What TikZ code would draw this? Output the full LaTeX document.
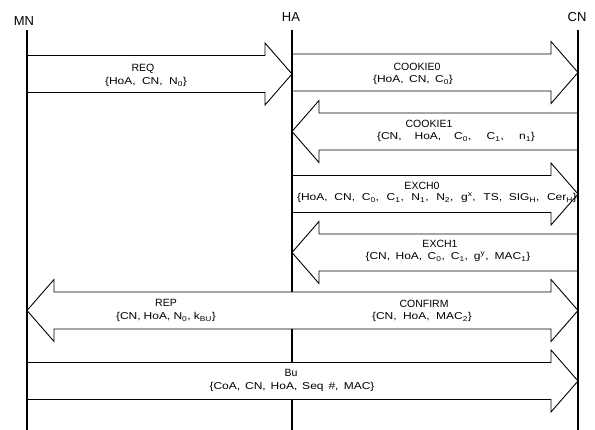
\documentclass[tikz,border=0pt]{standalone}
\usepackage{fontspec}
\setmainfont{Liberation Sans}
\newfontfamily\parfont[FakeStretch=1.2]{Liberation Sans}
\usetikzlibrary{calc}
\tikzset{
  party/.style    = {inner sep=0pt, font=\fontsize{13}{13}\selectfont},
  lifeline/.style = {line width=1.2pt},
  msgline/.style  = {draw, line width=0.9pt, line join=miter},
  msgfill/.style  = {msgline, fill=white},
  msgname/.style  = {inner sep=0pt, font=\fontsize{10.5}{10.5}\selectfont},
  msgpar/.style   = {inner sep=0pt, font=\parfont\fontsize{10}{10}\selectfont},
}
\newcommand{\spread}[2]{\hbox to #1pt{#2}}

\begin{document}
\begin{tikzpicture}[x=1pt, y=-1pt]
  \useasboundingbox (0,0) rectangle (595,430);
  % parties
  \node[party] (MN) at (24,21.5) {MN};
  \node[party] (HA) at (291,17) {HA};
  \node[party] (CN) at (577,17) {CN};
  \coordinate (mn) at (27,30);
  \coordinate (ha) at (292,30);
  \coordinate (cn) at (578,30);
  \coordinate (bottom) at (0,430);

  \draw[lifeline] (ha) -- (ha |- bottom);

  % one-way messages: tail / tip / y
  \foreach \a/\b/\y/\s in {mn/ha/74/msgline, ha/cn/72.5/msgline, cn/ha/131.5/msgline,
                           ha/cn/194/msgline, cn/ha/252.5/msgline, mn/cn/381/msgfill} {
    \coordinate (tl) at (\a |- 0,\y);
    \coordinate (tp) at (\b |- 0,\y);
    \coordinate (hb) at ($(tp)!27pt!(tl)$);
    \draw[\s] ([yshift=18.5pt]tl) -- ([yshift=18.5pt]hb) -- ([yshift=31pt]hb) -- (tp)
      -- ([yshift=-31pt]hb) -- ([yshift=-18.5pt]hb) -- ([yshift=-18.5pt]tl);
  }

  % REP / CONFIRM share one body
  \coordinate (l) at (mn |- 0,310.5);
  \coordinate (r) at (cn |- 0,310.5);
  \coordinate (lb) at ($(l)!27pt!(r)$);
  \coordinate (rb) at ($(r)!27pt!(l)$);
  \draw[msgfill] (l) -- ([yshift=31pt]lb) -- ([yshift=18.5pt]lb) -- ([yshift=18.5pt]rb)
    -- ([yshift=31pt]rb) -- (r) -- ([yshift=-31pt]rb) -- ([yshift=-18.5pt]rb)
    -- ([yshift=-18.5pt]lb) -- ([yshift=-31pt]lb) -- cycle;

  \draw[lifeline] (mn) -- (mn |- bottom);
  \draw[lifeline] (cn) -- (cn |- bottom);

  % labels
  \node[msgname] (req) at (143,68.5) {REQ};
  \node[msgpar] (reqp) at (146,82) {\spread{82}{\{HoA, CN, N\textsubscript{0}\}}};
  \node[msgname] (ck0) at (417,67) {COOKIE0};
  \node[msgpar] (ck0p) at (413,80) {\spread{80}{\{HoA, CN, C\textsubscript{0}\}}};
  \node[msgname] (ck1) at (429,124) {COOKIE1};
  \node[msgpar] (ck1p) at (456,137) {\spread{158}{\{CN, HoA, C\textsubscript{0}, C\textsubscript{1}, n\textsubscript{1}\}}};
  \node[msgname] (ex0) at (422,186) {EXCH0};
  \node[msgpar] (ex0p) at (437,198) {\spread{280}{\{HoA, CN, C\textsubscript{0}, C\textsubscript{1}, N\textsubscript{1}, N\textsubscript{2}, g\textsuperscript{x}, TS, SIG\textsubscript{H}, Cer\textsubscript{H}\}}};
  \node[msgname] (ex1) at (440,244) {EXCH1};
  \node[msgpar] (ex1p) at (448,257) {\spread{165}{\{CN, HoA, C\textsubscript{0}, C\textsubscript{1}, g\textsuperscript{y}, MAC\textsubscript{1}\}}};
  \node[msgname] (rep) at (166,303) {REP};
  \node[msgpar] (repp) at (166,317) {\spread{100}{\{CN, HoA, N\textsubscript{0}, k\textsubscript{BU}\}}};
  \node[msgname] (cnf) at (424,304) {CONFIRM};
  \node[msgpar] (cnfp) at (422,317) {\spread{100}{\{CN, HoA, MAC\textsubscript{2}\}}};
  \node[msgname] (bu) at (291,373) {Bu};
  \node[msgpar] (bup) at (292,387) {\spread{165}{\{CoA, CN, HoA, Seq~\#, MAC\}}};
\end{tikzpicture}
\end{document}
